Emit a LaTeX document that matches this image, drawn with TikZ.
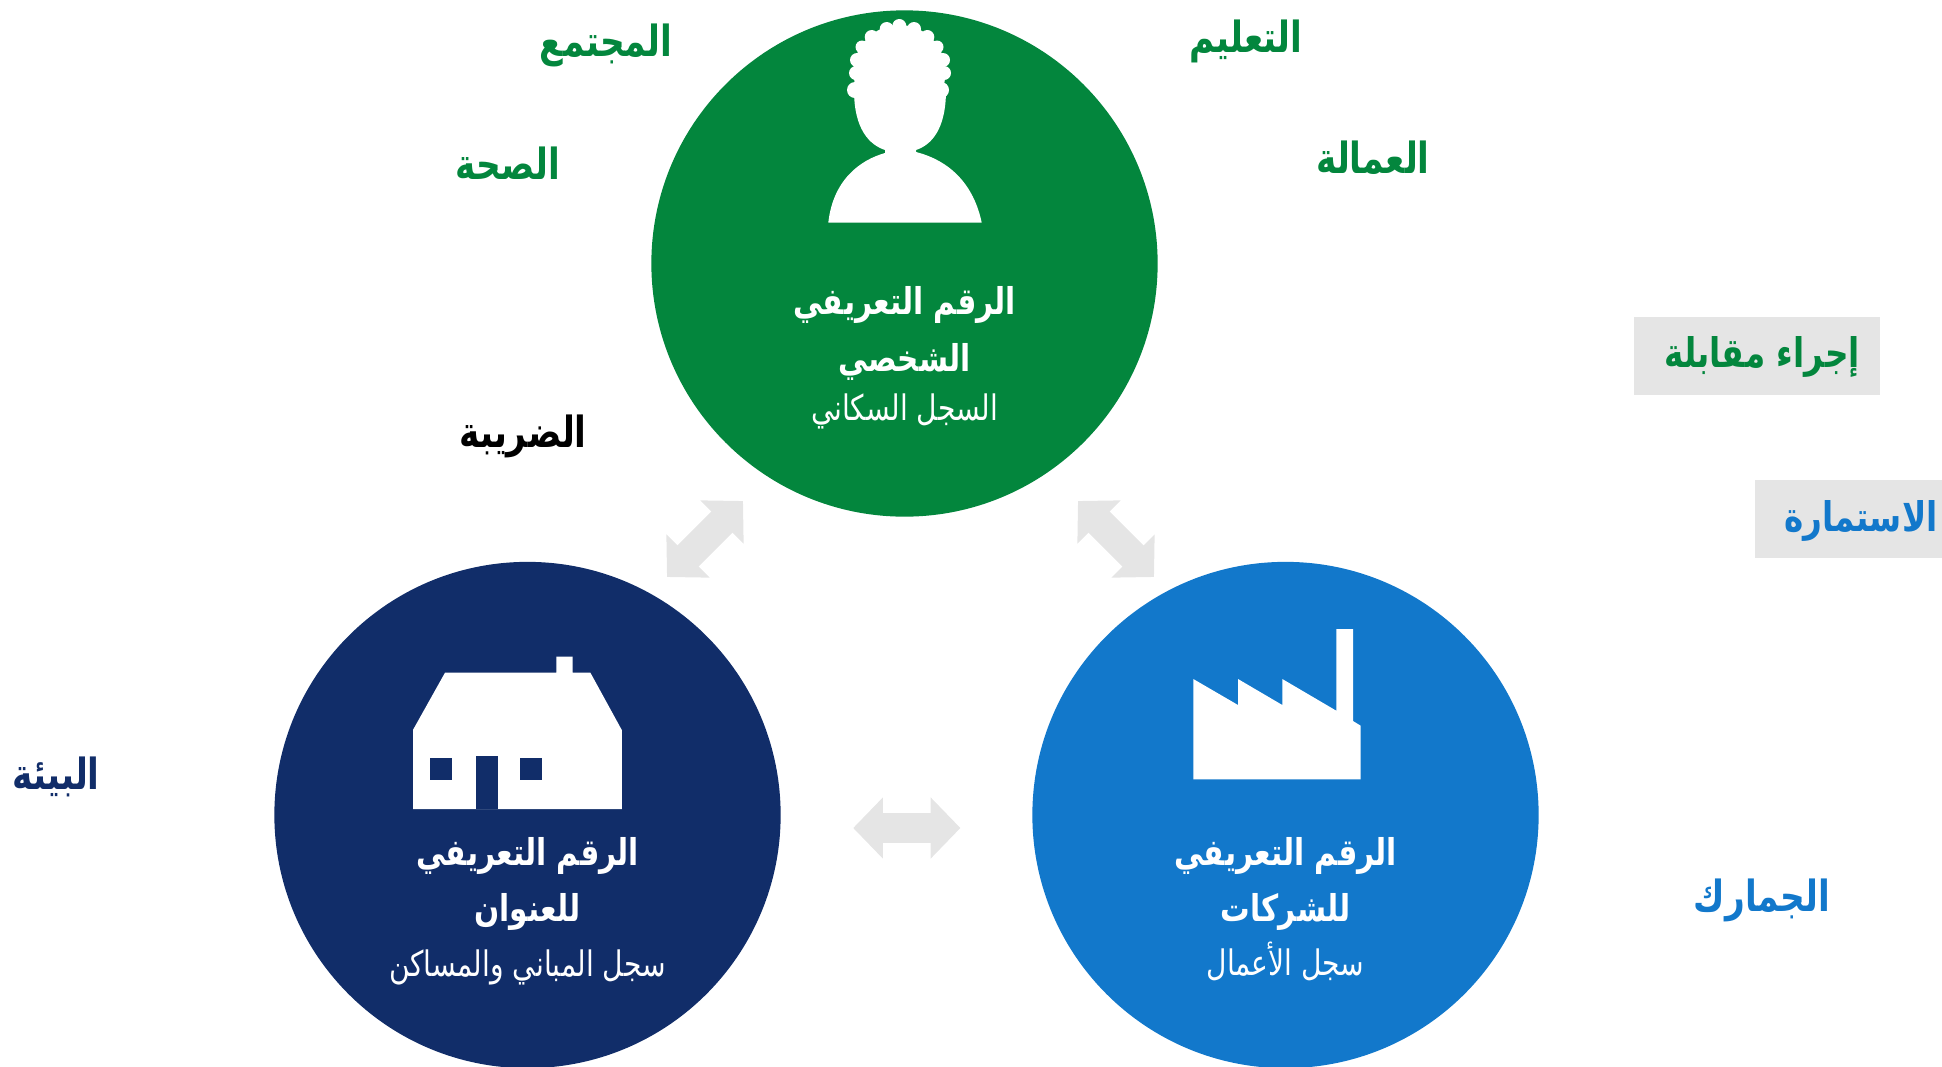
\documentclass[tikz,border=0pt]{standalone}
\usepackage{fontspec}
\usepackage{tikz}
\usetikzlibrary{arrows.meta}
\newfontfamily\arabicfont[Script=Arabic,FakeStretch=0.8]{DejaVu Sans}
\TeXXeTstate=1
\definecolor{personGreen}{RGB}{3,134,61}
\definecolor{addressNavy}{RGB}{17,45,105}
\definecolor{businessBlue}{RGB}{18,120,203}
\definecolor{paleGrey}{RGB}{229,229,229}
\newcommand{\rl}[1]{\beginR #1\endR}

\begin{document}
\begin{tikzpicture}[
    x=0.01cm, y=-0.01cm,
    idcircle/.style={circle, minimum size=5.06cm, inner sep=0pt},
    idtitle/.style={text=white, anchor=base, font=\arabicfont\bfseries\fontsize{10.5}{12}\selectfont, inner sep=0pt},
    idsub/.style={text=white, anchor=base, font=\arabicfont\fontsize{10}{12}\selectfont, inner sep=0pt},
    sectorlabel/.style={anchor=base, font=\arabicfont\bfseries\fontsize{12.2}{14}\selectfont, inner sep=0pt},
    boxlabel/.style={anchor=base, font=\arabicfont\bfseries\fontsize{11.6}{14}\selectfont, inner sep=0pt},
    methodbox/.style={fill=paleGrey, minimum height=0.78cm, inner sep=0pt},
    fatarrow/.style={draw=paleGrey, line width=0.298cm,
        {Triangle[length=0.297cm, width=0.594cm, fill=paleGrey]}-{Triangle[length=0.297cm, width=0.594cm, fill=paleGrey]}}
]
    \useasboundingbox (0,0) rectangle (1942,1066);

    % Three registers
    \node[idcircle, fill=personGreen] (person) at (904.5,263.5) {};
    \node[idcircle, fill=addressNavy] (address) at (527.5,815) {};
    \node[idcircle, fill=businessBlue] (business) at (1285.5,815) {};

    % Person icon
    \fill[white] (899.5,72) ellipse (46 and 47);
    \foreach \bx/\by/\br in {899.3/26/7, 886.7/29/7, 871.7/37/7, 862/47/6.5, 857/60/7, 856/73/7, 855/90/8,
                             914/29/7, 927.3/37/7, 937/47/6.5, 943/60/7, 944/73/7, 941/90/8}
        \fill[white] (\bx,\by) circle (\br);
    \fill[white] (854,90) .. controls (854,130) and (870,145) .. (885,150) -- (885,153)
        .. controls (860,160) and (833,180) .. (828.3,222.7) -- (981.7,222.7)
        .. controls (975,190) and (955,162) .. (916,152) -- (916,150)
        .. controls (931,145) and (946,130) .. (946,90) -- cycle;

    % House icon
    \fill[white] (413.2,729.5) -- (445,672.7) -- (556.4,672.7) -- (556.4,656.7) -- (572.5,656.7) -- (572.5,672.7)
        -- (590.4,672.7) -- (621.8,730) -- (621.8,809) -- (413.2,809) -- cycle;
    \fill[addressNavy] (475.7,809) rectangle (497.5,756);
    \fill[addressNavy] (430,758) rectangle (452.1,780.3);
    \fill[addressNavy] (519.6,758) rectangle (541.8,780.3);

    % Factory icon
    \fill[white] (1193.3,779.3) -- (1193.3,679) -- (1238,705) -- (1238,679) -- (1282.3,705) -- (1282.3,679)
        -- (1336.3,710.7) -- (1336.3,629) -- (1353,629) -- (1353,721) -- (1360.7,725.7) -- (1360.7,779.3) -- cycle;

    % Circle texts
    \node[idtitle] (personTitle) at (904.5,314.6) {\rl{الرقم التعريفي}};
    \node[idtitle] (personName) at (904.5,371) {\rl{الشخصي}};
    \node[idsub] (personSub) at (904.5,420) {\rl{السجل السكاني}};
    \node[idtitle] (addressTitle) at (527.5,865) {\rl{الرقم التعريفي}};
    \node[idtitle] (addressName) at (527.5,921.7) {\rl{للعنوان}};
    \node[idsub] (addressSub) at (527.5,976) {\rl{سجل المباني والمساكن}};
    \node[idtitle] (businessTitle) at (1285.5,865) {\rl{الرقم التعريفي}};
    \node[idtitle] (businessName) at (1285.5,921.7) {\rl{للشركات}};
    \node[idsub] (businessSub) at (1285.5,975) {\rl{سجل الأعمال}};

    % Labels around the circles
    \node[sectorlabel, text=personGreen] (community) at (606,56) {\rl{المجتمع}};
    \node[sectorlabel, text=personGreen] (education) at (1246,52) {\rl{التعليم}};
    \node[sectorlabel, text=personGreen] (health) at (508,179) {\rl{الصحة}};
    \node[sectorlabel, text=personGreen] (labour) at (1373,173) {\rl{العمالة}};
    \node[sectorlabel, text=black] (tax) at (523,447) {\rl{الضريبة}};
    \node[sectorlabel, text=addressNavy] (environment) at (56,789) {\rl{البيئة}};
    \node[sectorlabel, text=businessBlue] (customs) at (1762,911) {\rl{الجمارك}};

    % Grey boxes with their texts
    \node[methodbox, minimum width=2.46cm] (interview) at (1757,356) {};
    \node[methodbox, minimum width=1.87cm] (form) at (1848.5,519) {};
    \node[boxlabel, text=personGreen] (interviewText) at (1762,367) {\rl{إجراء مقابلة}};
    \node[boxlabel, text=businessBlue] (formText) at (1861,531) {\rl{الاستمارة}};

    % Grey double arrows
    \coordinate (linkPersonTip) at (743,501);
    \coordinate (linkAddressTip) at (667,577);
    \coordinate (linkPersonEnd) at (1078,501);
    \coordinate (linkBusinessTip) at (1154,577);
    \coordinate (linkAddressEnd) at (853.2,828);
    \coordinate (linkBusinessEnd) at (960.4,828);
    \draw[fatarrow] (linkAddressTip) -- (linkPersonTip);
    \draw[fatarrow] (linkPersonEnd) -- (linkBusinessTip);
    \draw[fatarrow] (linkAddressEnd) -- (linkBusinessEnd);
\end{tikzpicture}
\end{document}
